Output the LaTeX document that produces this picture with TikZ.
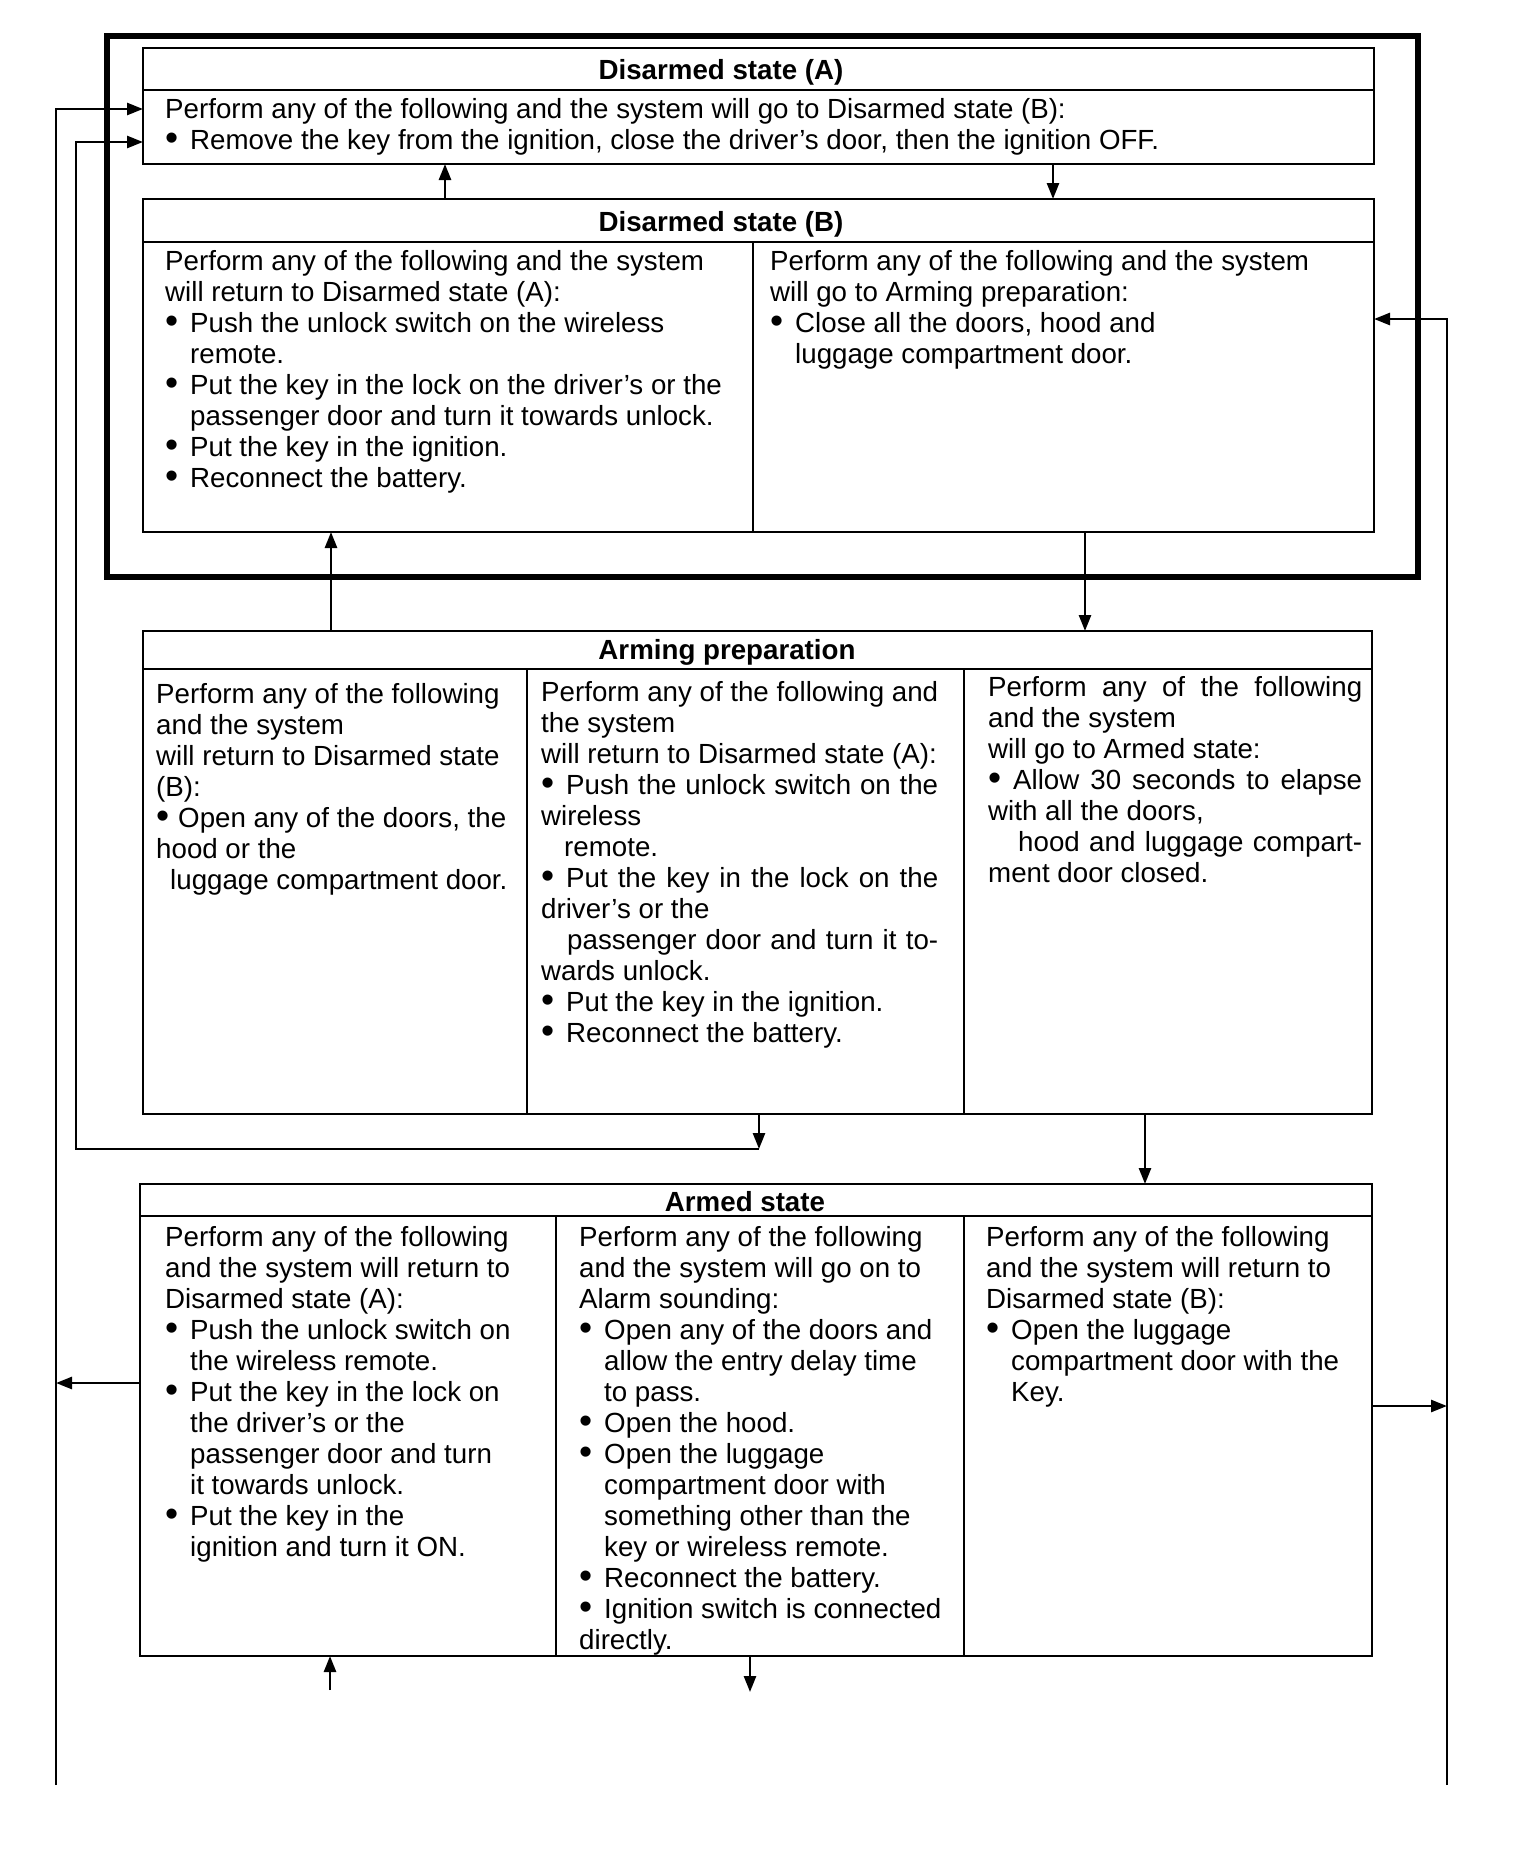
\documentclass[tikz,border=0pt]{standalone}
\usepackage{fontspec}
\setmainfont{Liberation Sans}
\usetikzlibrary{arrows.meta}

\newcommand{\bul}{\makebox[25pt][l]{\raisebox{-0.04em}{\scalebox{1.35}{\textbullet}}}}
\newcommand{\ind}{\hspace*{25pt}}
\newcommand{\just}[2]{\makebox[#1][s]{#2}}

\tikzset{
  box/.style={draw, line width=2.5pt, anchor=north west, inner sep=0, outer sep=0},
  cell/.style={draw, line width=1.8pt, anchor=north west, inner sep=0, outer sep=0},
  head/.style={font=\fontsize{27.7}{31}\selectfont\bfseries, anchor=base, inner sep=0},
  body/.style={anchor=north west, align=left, inner sep=0},
  arr/.style={line width=2.6pt, -{Triangle[length=16pt,width=12pt]}},
}

\begin{document}
\begin{tikzpicture}[x=1pt, y=-1pt, font=\fontsize{27.7}{31}\selectfont]
\useasboundingbox (0,0) rectangle (1536,1866);

% Disarmed state (A)
\node[cell, minimum width=1231pt, minimum height=74pt] (dsAbody) at (143,90) {};
\node[box, minimum width=1231pt, minimum height=42pt] (dsAhead) at (143,48) {};
\node[box, minimum width=1231pt, minimum height=116pt] (dsA) at (143,48) {};
\node[head] at (721,79) {Disarmed state (A)};
\node[body] at (165,98) {Perform any of the following and the system will go to Disarmed state (B):\\
  \bul Remove the key from the ignition, close the driver's door, then the ignition OFF.};

% Disarmed state (B)
\node[cell, minimum width=610pt, minimum height=290pt] (dsBL) at (143,242) {};
\node[cell, minimum width=621pt, minimum height=290pt] (dsBR) at (753,242) {};
\node[box, minimum width=1231pt, minimum height=43pt] (dsBhead) at (143,199) {};
\node[box, minimum width=1231pt, minimum height=333pt] (dsB) at (143,199) {};
\node[head] at (721,231) {Disarmed state (B)};
\node[body] at (165,250) {Perform any of the following and the system\\
  will return to Disarmed state (A):\\
  \bul Push the unlock switch on the wireless\\
  \ind remote.\\
  \bul Put the key in the lock on the driver's or the\\
  \ind passenger door and turn it towards unlock.\\
  \bul Put the key in the ignition.\\
  \bul Reconnect the battery.};
\node[body] at (770,250) {Perform any of the following and the system\\
  will go to Arming preparation:\\
  \bul Close all the doors, hood and\\
  \ind luggage compartment door.};

% Thick frame round both disarmed states
\node[box, line width=6pt, minimum width=1311pt, minimum height=541pt] (disarmed) at (107,36) {};

% Arming preparation
\node[cell, minimum width=384pt, minimum height=445pt] (prepL) at (143,669) {};
\node[cell, minimum width=437pt, minimum height=445pt] (prepM) at (527,669) {};
\node[cell, minimum width=408pt, minimum height=445pt] (prepR) at (964,669) {};
\node[box, minimum width=1229pt, minimum height=38pt] (prephead) at (143,631) {};
\node[box, minimum width=1229pt, minimum height=483pt] (prep) at (143,631) {};
\node[head] at (727,659) {Arming preparation};
\node[body] at (156,683) {Perform any of the following\\
  and the system\\
  will return to Disarmed state\\
  (B):\\
  \makebox[22pt][l]{\raisebox{-0.04em}{\scalebox{1.35}{\textbullet}}}Open any of the doors, the\\
  hood or the\\
  \hspace*{14pt}luggage compartment door.};
\node[body] at (541,681) {\just{397pt}{Perform any of the following and}\\
  the system\\
  will return to Disarmed state (A):\\
  \just{397pt}{\bul Push the unlock switch on the}\\
  wireless\\
  \hspace*{23pt}remote.\\
  \just{397pt}{\bul Put the key in the lock on the}\\
  driver's or the\\
  \hspace*{26pt}\just{371pt}{passenger door and turn it to-}\\
  wards unlock.\\
  \bul Put the key in the ignition.\\
  \bul Reconnect the battery.};
\node[body] at (988,676) {\just{374pt}{Perform any of the following}\\
  and the system\\
  will go to Armed state:\\
  \just{374pt}{\bul Allow 30 seconds to elapse}\\
  with all the doors,\\
  \hspace*{30pt}\just{344pt}{hood and luggage compart-}\\
  ment door closed.};

% Armed state
\node[cell, minimum width=416pt, minimum height=440pt] (armedL) at (140,1216) {};
\node[cell, minimum width=408pt, minimum height=440pt] (armedM) at (556,1216) {};
\node[cell, minimum width=408pt, minimum height=440pt] (armedR) at (964,1216) {};
\node[box, minimum width=1232pt, minimum height=32pt] (armedhead) at (140,1184) {};
\node[box, minimum width=1232pt, minimum height=472pt] (armed) at (140,1184) {};
\node[head] at (745,1211) {Armed state};
\node[body] at (165,1226) {Perform any of the following\\
  and the system will return to\\
  Disarmed state (A):\\
  \bul Push the unlock switch on\\
  \ind the wireless remote.\\
  \bul Put the key in the lock on\\
  \ind the driver's or the\\
  \ind passenger door and turn\\
  \ind it towards unlock.\\
  \bul Put the key in the\\
  \ind ignition and turn it ON.};
\node[body] at (579,1226) {Perform any of the following\\
  and the system will go on to\\
  Alarm sounding:\\
  \bul Open any of the doors and\\
  \ind allow the entry delay time\\
  \ind to pass.\\
  \bul Open the hood.\\
  \bul Open the luggage\\
  \ind compartment door with\\
  \ind something other than the\\
  \ind key or wireless remote.\\
  \bul Reconnect the battery.\\
  \bul Ignition switch is connected\\
  directly.};
\node[body] at (986,1226) {Perform any of the following\\
  and the system will return to\\
  Disarmed state (B):\\
  \bul Open the luggage\\
  \ind compartment door with the\\
  \ind Key.};

% Lanes and free ends
\coordinate (laneL) at (56,1785);
\coordinate (laneR) at (1447,1785);
\coordinate (laneM) at (76,1149);
\coordinate (bendM) at (759,1149);
\coordinate (fromNext) at (330,1690);
\coordinate (toNext) at (750,1692);

% A <-> B
\draw[arr] (dsB.north -| 445,0) -- (dsA.south -| 445,0);
\draw[arr] (dsA.south -| 1053,0) -- (dsB.north -| 1053,0);
% B <-> Arming preparation
\draw[arr] (prep.north -| 331,0) -- (dsB.south -| 331,0);
\draw[arr] (dsB.south -| 1085,0) -- (prep.north -| 1085,0);
% Arming preparation -> A
\draw[arr] (prep.south -| bendM) -- (bendM);
\draw[arr] (bendM) -- (laneM) |- (dsA.west |- 0,142);
% Arming preparation -> Armed
\draw[arr] (prep.south -| 1145,0) -- (armed.north -| 1145,0);
% Armed -> A
\draw[arr] (armed.west |- 0,1383) -- (laneL |- 0,1383);
\draw[arr] (laneL) |- (dsA.west |- 0,109);
% Armed -> B
\draw[arr] (armed.east |- 0,1406) -- (laneR |- 0,1406);
\draw[arr] (laneR) |- (dsB.east |- 0,319);
% Alarm sounding (next page)
\draw[arr] (fromNext) -- (armed.south -| fromNext);
\draw[arr] (armed.south -| toNext) -- (toNext);
\end{tikzpicture}
\end{document}
